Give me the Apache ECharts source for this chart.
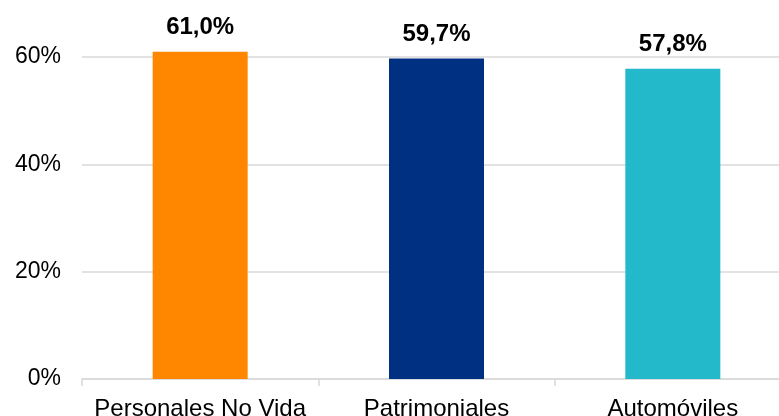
<!DOCTYPE html>
<html><head><meta charset="utf-8">
<script src="https://cdn.jsdelivr.net/npm/echarts@6/dist/echarts.min.js"></script>
<style>html,body{margin:0;padding:0;background:#fff}#c{width:779px;height:416px}</style>
</head><body><div id="c"></div>
<script>
const categories = ['Personales No Vida', 'Patrimoniales', 'Automóviles'];
const values = [61.0, 59.7, 57.8];
const barColors = ['#FF8700', '#003082', '#23B9CB'];
const yTicks = [0, 20, 40, 60];

const chart = echarts.init(document.getElementById('c'), null, {renderer: 'canvas'});
chart.setOption({
  animation: false,
  grid: {left: 82, width: 709, top: 57, bottom: 37, containLabel: false, outerBoundsMode: 'none'},
  xAxis: {
    type: 'category', data: categories,
    axisLine: {lineStyle: {color: '#D9D9D9', width: 1.5}},
    axisTick: {show: true, length: 7, lineStyle: {color: '#D9D9D9', width: 1.5}},
    axisLabel: {interval: 0, color: '#000', fontFamily: 'Liberation Sans, Arial', fontSize: 24, margin: 18}
  },
  yAxis: {
    type: 'value', min: yTicks[0], max: yTicks[yTicks.length - 1], interval: 20,
    axisLine: {show: false}, axisTick: {show: false},
    splitLine: {lineStyle: {color: '#D9D9D9', width: 1.5}},
    axisLabel: {color: '#000', fontFamily: 'Liberation Sans, Arial', fontSize: 23, margin: 21,
      formatter: v => v + '%'}
  },
  series: [{
    type: 'bar', clip: false, barWidth: 95,
    data: values.map((v, i) => ({value: v, itemStyle: {color: barColors[i]}})),
    label: {show: true, position: 'top', distance: 12, color: '#000', fontWeight: 'bold',
      fontFamily: 'Liberation Sans, Arial', fontSize: 24,
      formatter: p => p.value.toFixed(1).replace('.', ',') + '%'}
  }]
});
</script></body></html>
